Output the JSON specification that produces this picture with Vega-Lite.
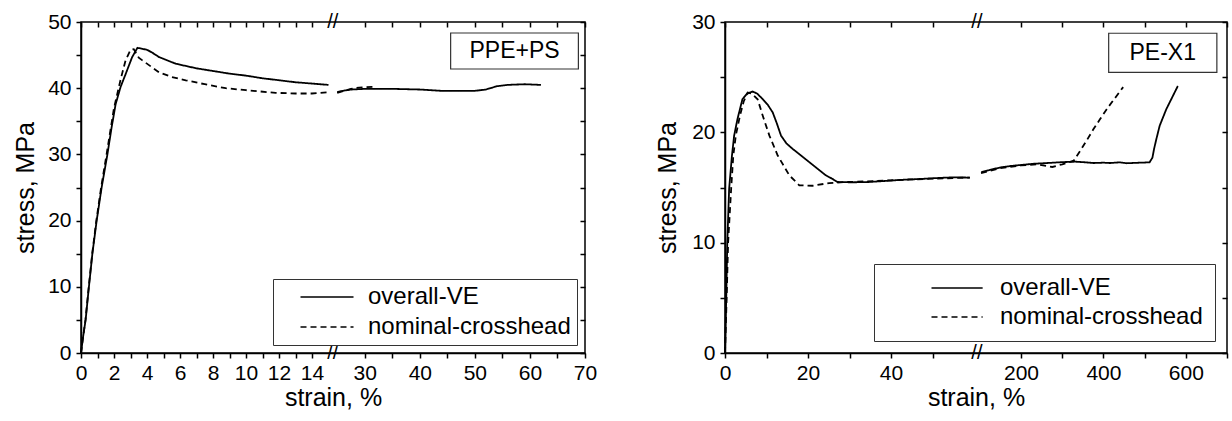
{
  "$schema": "https://vega.github.io/schema/vega-lite/v6.json",
  "padding": {"left": 12, "top": 10, "right": 0, "bottom": 0},
  "background": "white",
  "datasets": {
    "ppe": [
      {"series": "overall-VE", "seg": 1, "strain": 0, "stress": 0},
      {"series": "overall-VE", "seg": 1, "strain": 0.1, "stress": 2},
      {"series": "overall-VE", "seg": 1, "strain": 0.28, "stress": 5},
      {"series": "overall-VE", "seg": 1, "strain": 0.48, "stress": 10},
      {"series": "overall-VE", "seg": 1, "strain": 0.69, "stress": 15},
      {"series": "overall-VE", "seg": 1, "strain": 0.95, "stress": 20},
      {"series": "overall-VE", "seg": 1, "strain": 1.25, "stress": 25},
      {"series": "overall-VE", "seg": 1, "strain": 1.6, "stress": 30},
      {"series": "overall-VE", "seg": 1, "strain": 1.85, "stress": 34},
      {"series": "overall-VE", "seg": 1, "strain": 2.1, "stress": 37.6},
      {"series": "overall-VE", "seg": 1, "strain": 2.4, "stress": 40.2},
      {"series": "overall-VE", "seg": 1, "strain": 2.7, "stress": 42.1},
      {"series": "overall-VE", "seg": 1, "strain": 3.1, "stress": 44.7},
      {"series": "overall-VE", "seg": 1, "strain": 3.42, "stress": 46.1},
      {"series": "overall-VE", "seg": 1, "strain": 4.0, "stress": 45.8},
      {"series": "overall-VE", "seg": 1, "strain": 4.3, "stress": 45.4},
      {"series": "overall-VE", "seg": 1, "strain": 4.73, "stress": 44.7},
      {"series": "overall-VE", "seg": 1, "strain": 5.74, "stress": 43.7},
      {"series": "overall-VE", "seg": 1, "strain": 7, "stress": 43.0},
      {"series": "overall-VE", "seg": 1, "strain": 8, "stress": 42.6},
      {"series": "overall-VE", "seg": 1, "strain": 9, "stress": 42.2},
      {"series": "overall-VE", "seg": 1, "strain": 10, "stress": 41.9},
      {"series": "overall-VE", "seg": 1, "strain": 11, "stress": 41.5},
      {"series": "overall-VE", "seg": 1, "strain": 12, "stress": 41.2},
      {"series": "overall-VE", "seg": 1, "strain": 13, "stress": 40.9},
      {"series": "overall-VE", "seg": 1, "strain": 14, "stress": 40.7},
      {"series": "overall-VE", "seg": 1, "strain": 15, "stress": 40.5},
      {"series": "overall-VE", "seg": 2, "strain": 25, "stress": 39.4},
      {"series": "overall-VE", "seg": 2, "strain": 26, "stress": 39.6},
      {"series": "overall-VE", "seg": 2, "strain": 27.5, "stress": 39.8},
      {"series": "overall-VE", "seg": 2, "strain": 30, "stress": 39.9},
      {"series": "overall-VE", "seg": 2, "strain": 35, "stress": 39.9},
      {"series": "overall-VE", "seg": 2, "strain": 40, "stress": 39.8},
      {"series": "overall-VE", "seg": 2, "strain": 44, "stress": 39.6},
      {"series": "overall-VE", "seg": 2, "strain": 47, "stress": 39.6},
      {"series": "overall-VE", "seg": 2, "strain": 50, "stress": 39.6},
      {"series": "overall-VE", "seg": 2, "strain": 52, "stress": 39.8},
      {"series": "overall-VE", "seg": 2, "strain": 54, "stress": 40.3},
      {"series": "overall-VE", "seg": 2, "strain": 56, "stress": 40.5},
      {"series": "overall-VE", "seg": 2, "strain": 59, "stress": 40.6},
      {"series": "overall-VE", "seg": 2, "strain": 62, "stress": 40.5},
      {"series": "nominal-crosshead", "seg": 1, "strain": 0, "stress": 0},
      {"series": "nominal-crosshead", "seg": 1, "strain": 0.27, "stress": 5},
      {"series": "nominal-crosshead", "seg": 1, "strain": 0.47, "stress": 10},
      {"series": "nominal-crosshead", "seg": 1, "strain": 0.68, "stress": 15},
      {"series": "nominal-crosshead", "seg": 1, "strain": 0.93, "stress": 20},
      {"series": "nominal-crosshead", "seg": 1, "strain": 1.22, "stress": 25},
      {"series": "nominal-crosshead", "seg": 1, "strain": 1.55, "stress": 30},
      {"series": "nominal-crosshead", "seg": 1, "strain": 2.0, "stress": 37},
      {"series": "nominal-crosshead", "seg": 1, "strain": 2.4, "stress": 41.3},
      {"series": "nominal-crosshead", "seg": 1, "strain": 2.7, "stress": 44.2},
      {"series": "nominal-crosshead", "seg": 1, "strain": 3.0, "stress": 45.8},
      {"series": "nominal-crosshead", "seg": 1, "strain": 3.2, "stress": 45.9},
      {"series": "nominal-crosshead", "seg": 1, "strain": 3.5, "stress": 44.6},
      {"series": "nominal-crosshead", "seg": 1, "strain": 3.72, "stress": 44.2},
      {"series": "nominal-crosshead", "seg": 1, "strain": 4.73, "stress": 42.4},
      {"series": "nominal-crosshead", "seg": 1, "strain": 5.5, "stress": 41.7},
      {"series": "nominal-crosshead", "seg": 1, "strain": 6.35, "stress": 41.2},
      {"series": "nominal-crosshead", "seg": 1, "strain": 7.5, "stress": 40.6},
      {"series": "nominal-crosshead", "seg": 1, "strain": 8.77, "stress": 40.0},
      {"series": "nominal-crosshead", "seg": 1, "strain": 10, "stress": 39.7},
      {"series": "nominal-crosshead", "seg": 1, "strain": 11.8, "stress": 39.3},
      {"series": "nominal-crosshead", "seg": 1, "strain": 13, "stress": 39.2},
      {"series": "nominal-crosshead", "seg": 1, "strain": 14, "stress": 39.2},
      {"series": "nominal-crosshead", "seg": 1, "strain": 15, "stress": 39.4},
      {"series": "nominal-crosshead", "seg": 2, "strain": 25, "stress": 39.3},
      {"series": "nominal-crosshead", "seg": 2, "strain": 27.5, "stress": 39.9},
      {"series": "nominal-crosshead", "seg": 2, "strain": 29, "stress": 40.1},
      {"series": "nominal-crosshead", "seg": 2, "strain": 31.4, "stress": 40.2}
    ],
    "pex": [
      {"series": "overall-VE", "seg": 1, "strain": 0, "stress": 0},
      {"series": "overall-VE", "seg": 1, "strain": 0.3, "stress": 5},
      {"series": "overall-VE", "seg": 1, "strain": 0.55, "stress": 10},
      {"series": "overall-VE", "seg": 1, "strain": 1.0, "stress": 14.9},
      {"series": "overall-VE", "seg": 1, "strain": 1.68, "stress": 17.9},
      {"series": "overall-VE", "seg": 1, "strain": 2.2, "stress": 19.7},
      {"series": "overall-VE", "seg": 1, "strain": 3.0, "stress": 21.2},
      {"series": "overall-VE", "seg": 1, "strain": 3.4, "stress": 21.8},
      {"series": "overall-VE", "seg": 1, "strain": 4.2, "stress": 23.0},
      {"series": "overall-VE", "seg": 1, "strain": 5.3, "stress": 23.5},
      {"series": "overall-VE", "seg": 1, "strain": 6.65, "stress": 23.7},
      {"series": "overall-VE", "seg": 1, "strain": 7.8, "stress": 23.5},
      {"series": "overall-VE", "seg": 1, "strain": 9.1, "stress": 23.0},
      {"series": "overall-VE", "seg": 1, "strain": 10.3, "stress": 22.5},
      {"series": "overall-VE", "seg": 1, "strain": 11.5, "stress": 21.8},
      {"series": "overall-VE", "seg": 1, "strain": 12.5, "stress": 20.8},
      {"series": "overall-VE", "seg": 1, "strain": 13.5, "stress": 19.7},
      {"series": "overall-VE", "seg": 1, "strain": 14.8, "stress": 19.0},
      {"series": "overall-VE", "seg": 1, "strain": 16.3, "stress": 18.5},
      {"series": "overall-VE", "seg": 1, "strain": 18.3, "stress": 17.9},
      {"series": "overall-VE", "seg": 1, "strain": 20.3, "stress": 17.3},
      {"series": "overall-VE", "seg": 1, "strain": 22.3, "stress": 16.7},
      {"series": "overall-VE", "seg": 1, "strain": 24.3, "stress": 16.1},
      {"series": "overall-VE", "seg": 1, "strain": 25.8, "stress": 15.8},
      {"series": "overall-VE", "seg": 1, "strain": 27.1, "stress": 15.5},
      {"series": "overall-VE", "seg": 1, "strain": 30.7, "stress": 15.47},
      {"series": "overall-VE", "seg": 1, "strain": 34.7, "stress": 15.5},
      {"series": "overall-VE", "seg": 1, "strain": 38.8, "stress": 15.6},
      {"series": "overall-VE", "seg": 1, "strain": 42.8, "stress": 15.7},
      {"series": "overall-VE", "seg": 1, "strain": 46.8, "stress": 15.77},
      {"series": "overall-VE", "seg": 1, "strain": 50.8, "stress": 15.85},
      {"series": "overall-VE", "seg": 1, "strain": 54.8, "stress": 15.92},
      {"series": "overall-VE", "seg": 1, "strain": 59, "stress": 15.9},
      {"series": "overall-VE", "seg": 2, "strain": 103.6, "stress": 16.4},
      {"series": "overall-VE", "seg": 2, "strain": 130, "stress": 16.65},
      {"series": "overall-VE", "seg": 2, "strain": 151.8, "stress": 16.83},
      {"series": "overall-VE", "seg": 2, "strain": 175, "stress": 16.95},
      {"series": "overall-VE", "seg": 2, "strain": 200, "stress": 17.04},
      {"series": "overall-VE", "seg": 2, "strain": 230, "stress": 17.15},
      {"series": "overall-VE", "seg": 2, "strain": 256, "stress": 17.2},
      {"series": "overall-VE", "seg": 2, "strain": 300, "stress": 17.3},
      {"series": "overall-VE", "seg": 2, "strain": 332, "stress": 17.34},
      {"series": "overall-VE", "seg": 2, "strain": 350, "stress": 17.3},
      {"series": "overall-VE", "seg": 2, "strain": 376, "stress": 17.22},
      {"series": "overall-VE", "seg": 2, "strain": 400, "stress": 17.25},
      {"series": "overall-VE", "seg": 2, "strain": 416, "stress": 17.22},
      {"series": "overall-VE", "seg": 2, "strain": 440, "stress": 17.28},
      {"series": "overall-VE", "seg": 2, "strain": 456, "stress": 17.2},
      {"series": "overall-VE", "seg": 2, "strain": 490, "stress": 17.25},
      {"series": "overall-VE", "seg": 2, "strain": 512, "stress": 17.28},
      {"series": "overall-VE", "seg": 2, "strain": 519, "stress": 17.7},
      {"series": "overall-VE", "seg": 2, "strain": 523, "stress": 18.5},
      {"series": "overall-VE", "seg": 2, "strain": 528.6, "stress": 19.4},
      {"series": "overall-VE", "seg": 2, "strain": 536.6, "stress": 20.6},
      {"series": "overall-VE", "seg": 2, "strain": 552.7, "stress": 22.1},
      {"series": "overall-VE", "seg": 2, "strain": 568.7, "stress": 23.3},
      {"series": "overall-VE", "seg": 2, "strain": 580.7, "stress": 24.2},
      {"series": "nominal-crosshead", "seg": 1, "strain": 0, "stress": 0},
      {"series": "nominal-crosshead", "seg": 1, "strain": 0.4, "stress": 5},
      {"series": "nominal-crosshead", "seg": 1, "strain": 0.75, "stress": 10},
      {"series": "nominal-crosshead", "seg": 1, "strain": 1.5, "stress": 15},
      {"series": "nominal-crosshead", "seg": 1, "strain": 2.0, "stress": 17.9},
      {"series": "nominal-crosshead", "seg": 1, "strain": 2.6, "stress": 19.7},
      {"series": "nominal-crosshead", "seg": 1, "strain": 3.6, "stress": 21.5},
      {"series": "nominal-crosshead", "seg": 1, "strain": 4.5, "stress": 22.8},
      {"series": "nominal-crosshead", "seg": 1, "strain": 5.45, "stress": 23.6},
      {"series": "nominal-crosshead", "seg": 1, "strain": 6.5, "stress": 23.5},
      {"series": "nominal-crosshead", "seg": 1, "strain": 7.86, "stress": 23.0},
      {"series": "nominal-crosshead", "seg": 1, "strain": 9.1, "stress": 21.5},
      {"series": "nominal-crosshead", "seg": 1, "strain": 10.7, "stress": 19.7},
      {"series": "nominal-crosshead", "seg": 1, "strain": 12.7, "stress": 17.9},
      {"series": "nominal-crosshead", "seg": 1, "strain": 15.5, "stress": 16.1},
      {"series": "nominal-crosshead", "seg": 1, "strain": 17.9, "stress": 15.2},
      {"series": "nominal-crosshead", "seg": 1, "strain": 21.1, "stress": 15.16},
      {"series": "nominal-crosshead", "seg": 1, "strain": 25.1, "stress": 15.4},
      {"series": "nominal-crosshead", "seg": 1, "strain": 29.2, "stress": 15.5},
      {"series": "nominal-crosshead", "seg": 1, "strain": 34, "stress": 15.55},
      {"series": "nominal-crosshead", "seg": 1, "strain": 40, "stress": 15.65},
      {"series": "nominal-crosshead", "seg": 1, "strain": 50, "stress": 15.8},
      {"series": "nominal-crosshead", "seg": 1, "strain": 59, "stress": 15.9},
      {"series": "nominal-crosshead", "seg": 2, "strain": 103, "stress": 16.3},
      {"series": "nominal-crosshead", "seg": 2, "strain": 150, "stress": 16.75},
      {"series": "nominal-crosshead", "seg": 2, "strain": 200, "stress": 17.0},
      {"series": "nominal-crosshead", "seg": 2, "strain": 240, "stress": 17.1},
      {"series": "nominal-crosshead", "seg": 2, "strain": 276, "stress": 16.86},
      {"series": "nominal-crosshead", "seg": 2, "strain": 300, "stress": 17.1},
      {"series": "nominal-crosshead", "seg": 2, "strain": 328, "stress": 17.43},
      {"series": "nominal-crosshead", "seg": 2, "strain": 344, "stress": 18.34},
      {"series": "nominal-crosshead", "seg": 2, "strain": 360, "stress": 19.3},
      {"series": "nominal-crosshead", "seg": 2, "strain": 376, "stress": 20.3},
      {"series": "nominal-crosshead", "seg": 2, "strain": 392, "stress": 21.2},
      {"series": "nominal-crosshead", "seg": 2, "strain": 408, "stress": 22.1},
      {"series": "nominal-crosshead", "seg": 2, "strain": 432, "stress": 23.3},
      {"series": "nominal-crosshead", "seg": 2, "strain": 448, "stress": 24.1}
    ]
  },
  "spacing": 56,
  "resolve": {
    "scale": {"x": "independent", "y": "independent", "strokeDash": "independent"},
    "axis": {"x": "independent", "y": "independent"},
    "legend": {"strokeDash": "independent"}
  },
  "hconcat": [
    {
      "width": 504,
      "height": 331,
      "resolve": {"axis": {"x": "independent", "y": "independent"}},
      "layer": [
        {
          "data": {"name": "ppe"},
          "mark": {"type": "line", "color": "black", "strokeWidth": 1.8},
          "encoding": {
            "x": {
              "field": "strain", "type": "quantitative",
              "scale": {"domain": [0, 15, 25, 70], "range": [0, 247.5, 256.2, 504], "nice": false, "zero": false},
              "axis": {
                "orient": "bottom", "title": "strain, %",
                "values": [0, 1, 2, 3, 4, 5, 6, 7, 8, 9, 10, 11, 12, 13, 14, 30, 35, 40, 45, 50, 55, 60, 65, 70],
                "labelExpr": "(datum.value <= 15 ? datum.value % 2 == 0 : datum.value % 10 == 0) ? datum.label : ''",
                "ticks": true, "tickSize": 5,
                "labelPadding": 4, "titlePadding": 2, "labelOverlap": false, "labelFlush": false, "labelBound": false
              }
            },
            "y": {
              "field": "stress", "type": "quantitative",
              "scale": {"domain": [0, 50], "nice": false},
              "axis": {
                "orient": "left", "title": "stress, MPa",
                "values": [0, 5, 10, 15, 20, 25, 30, 35, 40, 45, 50],
                "labelExpr": "datum.value % 10 == 0 ? datum.label : ''",
                "ticks": true, "tickSize": 5,
                "labelPadding": 5, "titlePadding": 9, "labelOverlap": false, "labelFlush": false, "labelBound": false
              }
            },
            "strokeDash": {
              "field": "series", "type": "nominal",
              "scale": {"domain": ["overall-VE", "nominal-crosshead"], "range": [[1, 0], [6, 4]]},
              "legend": {
                "title": " ", "titleOrient": "left", "titleFontSize": 12, "titlePadding": 15,
                "orient": "bottom-right", "offset": 8, "padding": 6,
                "strokeColor": "#333", "fillColor": "white",
                "symbolType": "M-1,0H8.64", "symbolSize": 121, "symbolStrokeWidth": 1.6, "symbolStrokeColor": "black",
                "labelFont": "Liberation Sans", "labelFontSize": 24, "labelColor": "black", "labelOffset": 50, "labelLimit": 0, "rowPadding": 6,
                "labelExpr": "datum.label + '\u00a0\u00a0'"
              }
            },
            "detail": {"field": "seg", "type": "nominal"}
          }
        },
        {
          "data": {"values": [{}]},
          "mark": {"type": "rect", "fill": "white", "stroke": "#333", "strokeWidth": 1.2},
          "encoding": {
            "x": {
              "datum": 45.6, "type": "quantitative",
              "axis": {
                "orient": "top", "title": null, "labels": false, "domain": false, "ticks": true, "offset": -5,
                "values": [0, 1, 2, 3, 4, 5, 6, 7, 8, 9, 10, 11, 12, 13, 14, 30, 35, 40, 45, 50, 55, 60, 65, 70],
                "tickSize": 5
              }
            },
            "x2": {"datum": 68.8},
            "y": {
              "datum": 48.34, "type": "quantitative",
              "axis": {
                "orient": "right", "title": null, "labels": false, "domain": false, "ticks": true, "offset": -5,
                "values": [0, 5, 10, 15, 20, 25, 30, 35, 40, 45, 50],
                "tickSize": 5
              }
            },
            "y2": {"datum": 42.9}
          }
        },
        {
          "data": {"values": [{}]},
          "mark": {"type": "text", "font": "Liberation Sans", "fontSize": 23, "color": "black", "align": "center", "baseline": "middle"},
          "encoding": {
            "x": {"datum": 57.2, "type": "quantitative", "axis": null},
            "y": {"datum": 45.6, "type": "quantitative", "axis": null},
            "text": {"value": "PPE+PS"}
          }
        },
        {
          "data": {"values": [{}]},
          "mark": {"type": "text", "font": "Liberation Sans", "fontSize": 20, "color": "black", "align": "center", "baseline": "middle"},
          "encoding": {
            "x": {"datum": 20, "type": "quantitative", "axis": null},
            "y": {"datum": 50, "type": "quantitative", "axis": null},
            "text": {"value": "//"}
          }
        },
        {
          "data": {"values": [{}]},
          "mark": {"type": "text", "font": "Liberation Sans", "fontSize": 20, "color": "black", "align": "center", "baseline": "middle"},
          "encoding": {
            "x": {"datum": 20, "type": "quantitative", "axis": null},
            "y": {"datum": 0, "type": "quantitative", "axis": null},
            "text": {"value": "//"}
          }
        }
      ]
    },
    {
      "width": 502,
      "height": 331,
      "resolve": {"axis": {"x": "independent", "y": "independent"}},
      "layer": [
        {
          "data": {"name": "pex"},
          "mark": {"type": "line", "color": "black", "strokeWidth": 1.8},
          "encoding": {
            "x": {
              "field": "strain", "type": "quantitative",
              "scale": {"domain": [0, 60, 100, 700], "range": [0, 249, 254.8, 502], "nice": false, "zero": false},
              "axis": {
                "orient": "bottom", "title": "strain, %",
                "values": [0, 10, 20, 30, 40, 50, 200, 300, 400, 500, 600, 700],
                "labelExpr": "(datum.value <= 60 ? datum.value % 20 == 0 : datum.value % 200 == 0) ? datum.label : ''",
                "ticks": true, "tickSize": 5,
                "labelPadding": 4, "titlePadding": 2, "labelOverlap": false, "labelFlush": false, "labelBound": false
              }
            },
            "y": {
              "field": "stress", "type": "quantitative",
              "scale": {"domain": [0, 30], "nice": false},
              "axis": {
                "orient": "left", "title": "stress, MPa",
                "values": [0, 5, 10, 15, 20, 25, 30],
                "labelExpr": "datum.value % 10 == 0 ? datum.label : ''",
                "ticks": true, "tickSize": 5,
                "labelPadding": 5, "titlePadding": 11, "labelOverlap": false, "labelFlush": false, "labelBound": false
              }
            },
            "strokeDash": {
              "field": "series", "type": "nominal",
              "scale": {"domain": ["overall-VE", "nominal-crosshead"], "range": [[1, 0], [6, 4]]},
              "legend": {
                "title": " ", "titleOrient": "left", "titleFontSize": 12, "titlePadding": 39,
                "orient": "bottom-right", "offset": 12, "padding": 12,
                "strokeColor": "#333", "fillColor": "white",
                "symbolType": "M-1,0H8.3", "symbolSize": 121, "symbolStrokeWidth": 1.6, "symbolStrokeColor": "black",
                "labelFont": "Liberation Sans", "labelFontSize": 24, "labelColor": "black", "labelOffset": 51, "labelLimit": 0, "rowPadding": 5,
                "labelExpr": "datum.label + '\u00a0\u00a0\u00a0\u00a0'"
              }
            },
            "detail": {"field": "seg", "type": "nominal"}
          }
        },
        {
          "data": {"values": [{}]},
          "mark": {"type": "rect", "fill": "white", "stroke": "#333", "strokeWidth": 1.2},
          "encoding": {
            "x": {
              "datum": 412.8, "type": "quantitative",
              "axis": {
                "orient": "top", "title": null, "labels": false, "domain": false, "ticks": true, "offset": -5,
                "values": [0, 10, 20, 30, 40, 50, 200, 300, 400, 500, 600, 700],
                "tickSize": 5
              }
            },
            "x2": {"datum": 675.4},
            "y": {
              "datum": 28.98, "type": "quantitative",
              "axis": {
                "orient": "right", "title": null, "labels": false, "domain": false, "ticks": true, "offset": -5,
                "values": [0, 5, 10, 15, 20, 25, 30],
                "tickSize": 5
              }
            },
            "y2": {"datum": 25.44}
          }
        },
        {
          "data": {"values": [{}]},
          "mark": {"type": "text", "font": "Liberation Sans", "fontSize": 23, "color": "black", "align": "center", "baseline": "middle"},
          "encoding": {
            "x": {"datum": 544, "type": "quantitative", "axis": null},
            "y": {"datum": 27.2, "type": "quantitative", "axis": null},
            "text": {"value": "PE-X1"}
          }
        },
        {
          "data": {"values": [{}]},
          "mark": {"type": "text", "font": "Liberation Sans", "fontSize": 20, "color": "black", "align": "center", "baseline": "middle"},
          "encoding": {
            "x": {"datum": 80, "type": "quantitative", "axis": null},
            "y": {"datum": 30, "type": "quantitative", "axis": null},
            "text": {"value": "//"}
          }
        },
        {
          "data": {"values": [{}]},
          "mark": {"type": "text", "font": "Liberation Sans", "fontSize": 20, "color": "black", "align": "center", "baseline": "middle"},
          "encoding": {
            "x": {"datum": 80, "type": "quantitative", "axis": null},
            "y": {"datum": 0, "type": "quantitative", "axis": null},
            "text": {"value": "//"}
          }
        }
      ]
    }
  ],
  "config": {
    "font": "Liberation Sans",
    "view": {"stroke": "black", "strokeWidth": 1.5},
    "axis": {
      "labelFont": "Liberation Sans", "labelFontSize": 21, "labelColor": "black",
      "titleFont": "Liberation Sans", "titleFontSize": 25, "titleFontWeight": "normal", "titleColor": "black",
      "domainColor": "black", "domainWidth": 1.5, "tickColor": "black", "tickWidth": 1.5, "ticks": true, "grid": false
    }
  }
}
